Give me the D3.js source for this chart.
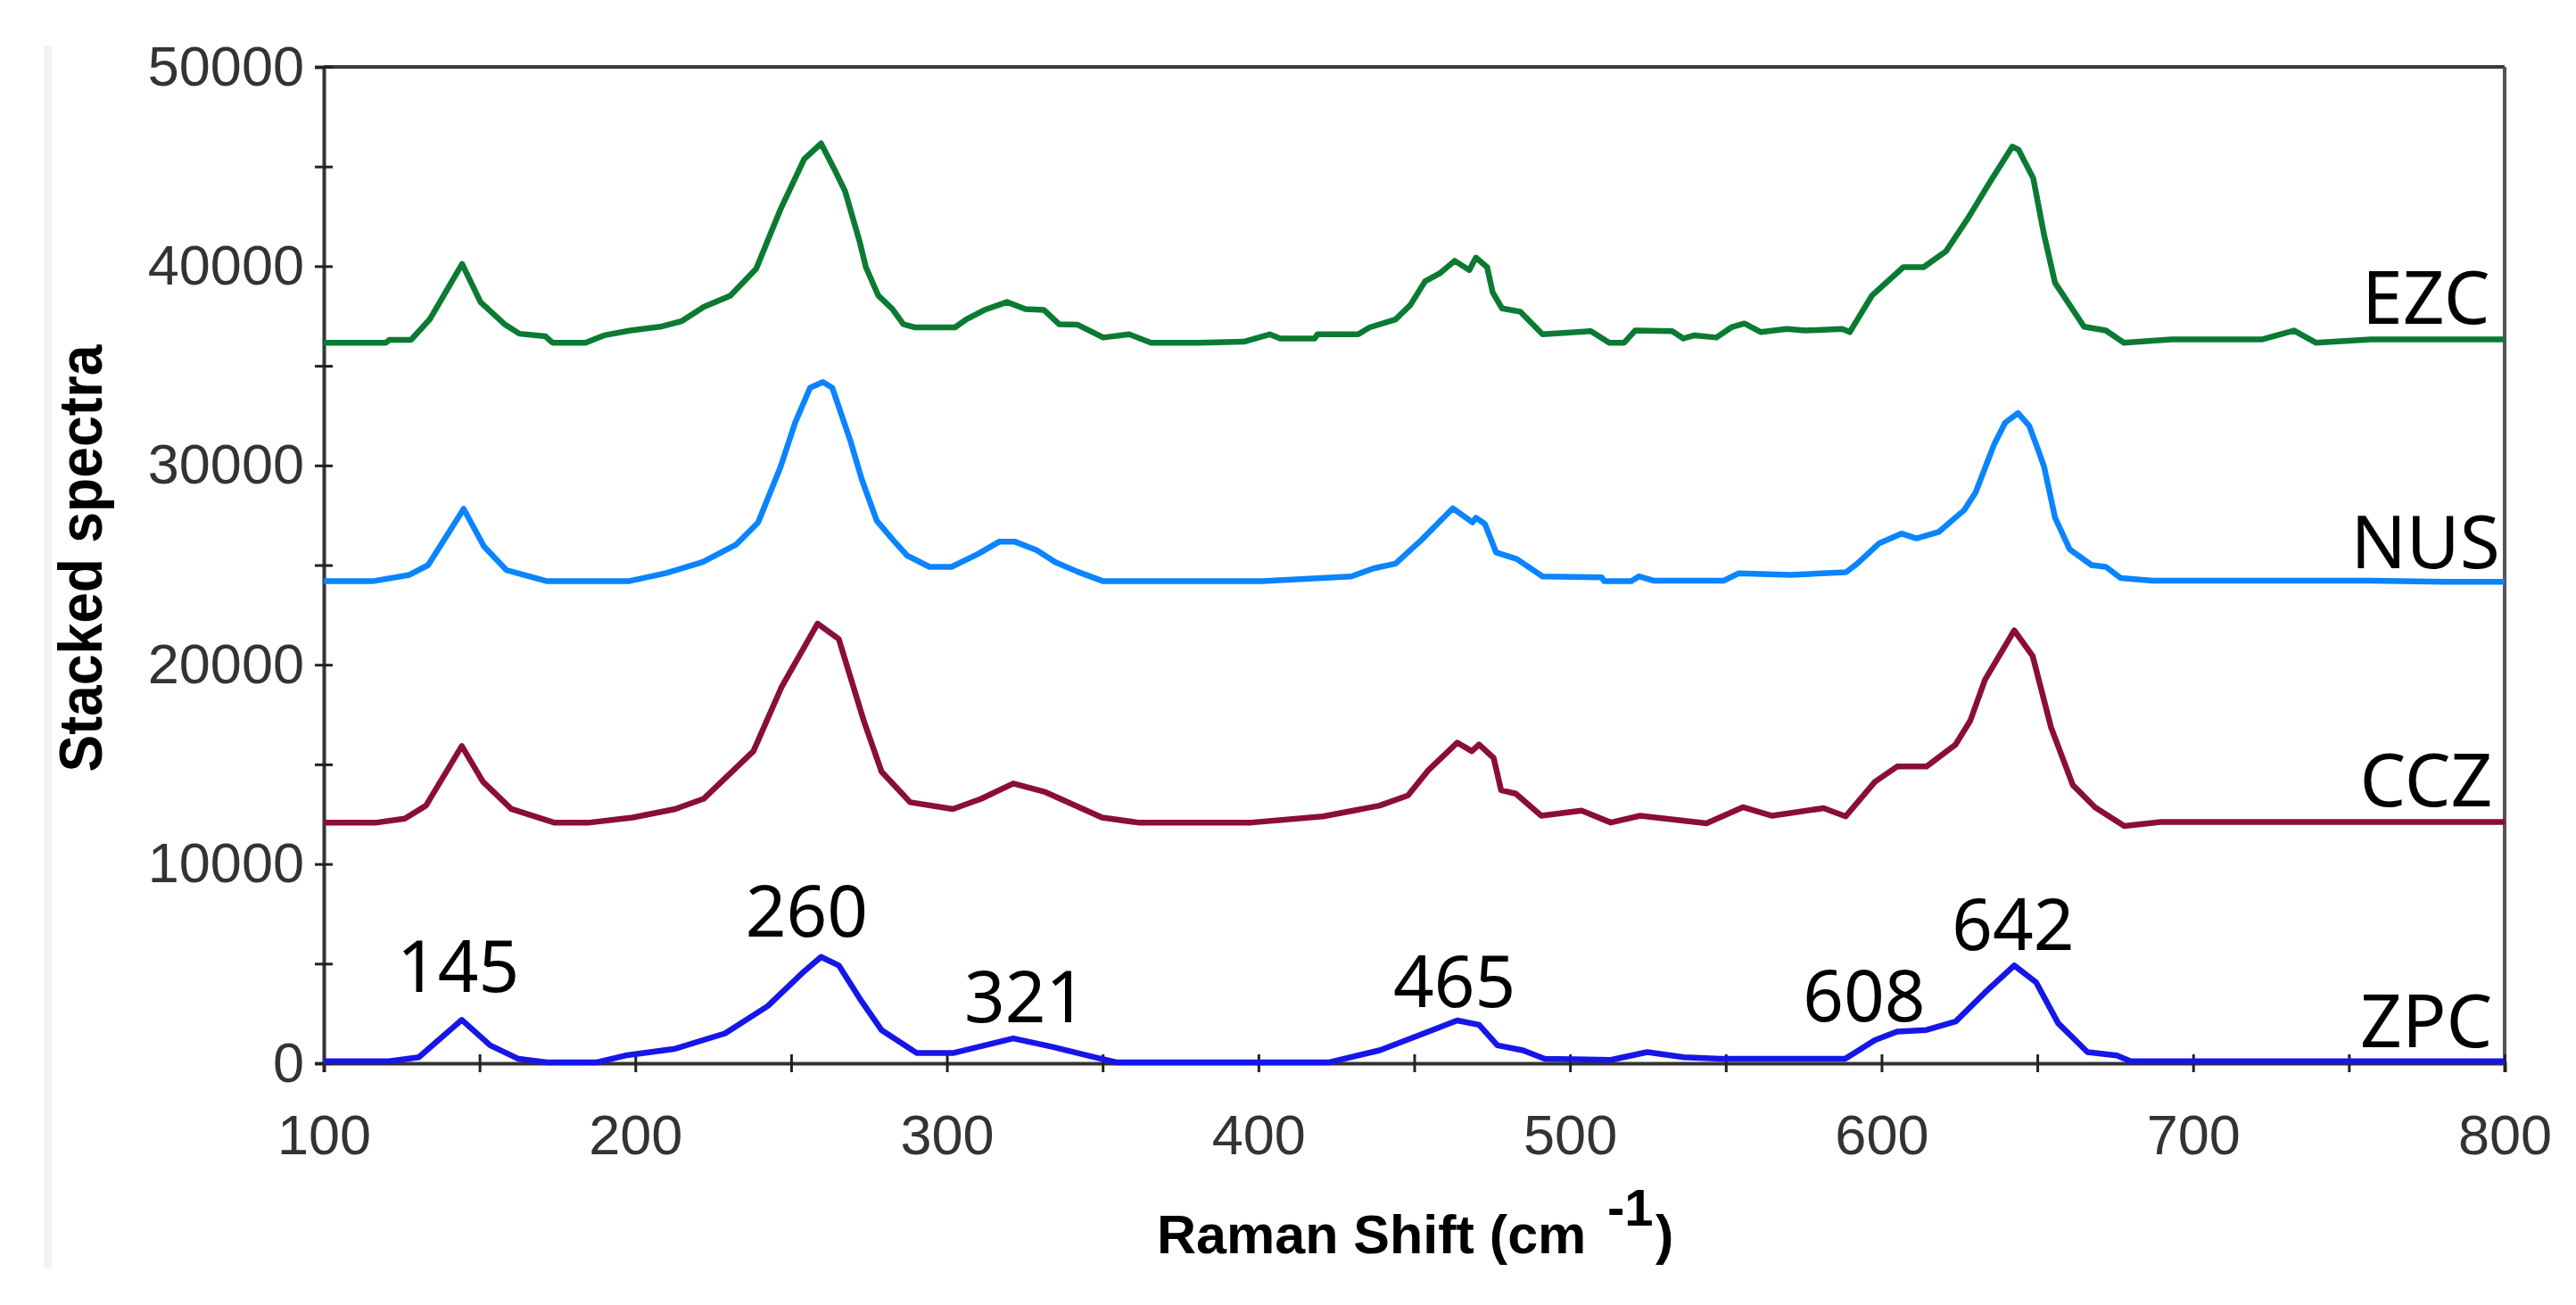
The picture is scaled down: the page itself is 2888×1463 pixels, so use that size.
<!DOCTYPE html>
<html>
<head>
<meta charset="utf-8">
<script src="https://cdn.jsdelivr.net/npm/d3@7"></script>
<style>
  html, body { margin: 0; padding: 0; background: #fff; }
  svg { display: block; }
</style>
</head>
<body>
<div id="chart"></div>
<script>
// Raman spectra, stacked: [shift (cm-1), intensity]
const seriesNames = ["EZC", "NUS", "CCZ", "ZPC"];
const seriesColors = ["#0b7a32", "#0a84ff", "#8a0d3c", "#1616e8"];

const ezcData = [
  [100,36160],[120,36160],[121,36300],[128,36300],[134,37330],[144.4,40110],[150.3,38200],[158,37090],
  [162.8,36610],[171.1,36480],[173.4,36160],[184,36160],[190,36530],[198.4,36770],[208,36960],[215,37250],
  [222,37960],[230.5,38520],[238.8,39870],[246.5,42820],[254.2,45370],[259.6,46160],[263.8,44890],[267.3,43770],
  [272,41230],[274,39950],[278,38520],[282.5,37850],[286,37090],[289.6,36930],[302.6,36930],[306.2,37330],
  [312,37800],[319.3,38200],[325.2,37850],[331.2,37800],[336,37090],[342,37060],[350.2,36420],[358.5,36580],
  [365.5,36160],[381,36160],[395.3,36210],[403.6,36580],[407,36370],[418,36370],[419,36580],[432,36580],
  [435.7,36930],[444,37330],[448.7,38040],[453.5,39240],[458.2,39640],[463,40270],[467.7,39800],[469.8,40430],
  [473.4,39950],[475.2,38680],[478.2,37880],[484,37720],[491.2,36580],[506.7,36740],[512.6,36160],[517.4,36160],
  [520.9,36770],[532.8,36740],[536.4,36370],[540,36530],[547,36420],[551.8,36930],[556,37120],[561.3,36690],
  [569.6,36850],[575.5,36770],[587.4,36850],[589.8,36690],[596.9,38520],[607,39950],[613.5,39950],[620.7,40750],
  [627.8,42420],[634.9,44250],[642,46000],[644,45840],[648.7,44410],[652.2,41550],[655.7,39160],[665,36960],
  [672,36770],[677.8,36160],[693,36320],[722,36320],[732.4,36770],[739.4,36160],[757,36320],[800,36320]
];

const nusData = [
  [100,24190],[115.6,24190],[127.5,24510],[133.5,25000],[144.9,27820],[151.4,25940],[158.6,24750],[171.7,24190],
  [197.8,24190],[209.7,24590],[221.6,25150],[232.3,26020],[239.4,27140],[246.6,29920],[251.3,32150],[256.1,33900],
  [260.2,34190],[263.2,33900],[269.1,31200],[272.7,29290],[277.5,27220],[282.8,26250],[287.3,25470],[294.4,24910],
  [301.5,24910],[309.8,25540],[316.9,26180],[321.7,26180],[328.8,25750],[334.8,25150],[341.9,24670],[350.2,24190],
  [401.3,24190],[429.8,24430],[436.9,24830],[444,25070],[452.3,26260],[462.4,27850],[468.7,27140],[469.8,27380],
  [472.7,27060],[476.3,25630],[482.9,25310],[491.2,24430],[510.2,24380],[511,24190],[519.7,24190],[522.1,24430],
  [526.8,24220],[549.4,24220],[554.2,24590],[570.8,24510],[588.6,24640],[592.2,25070],[599.3,26100],[606.4,26580],
  [611.2,26340],[618.3,26660],[626.6,27770],[630.2,28650],[636.1,31040],[639.7,32150],[643.8,32630],[647.4,31990],
  [650.4,30720],[652.2,29920],[655.7,27380],[660.4,25790],[667.4,25000],[672,24910],[676.8,24350],[687,24220],
  [757,24220],[781,24160],[800,24160]
];

const cczData = [
  [100,12080],[117,12080],[126,12280],[132.8,12930],[144.3,15920],[151.1,14130],[160.2,12760],[173.9,12080],
  [185.4,12080],[199.1,12330],[212.8,12760],[221.9,13270],[237.9,15660],[247,18900],[258.5,22060],[265.3,21290],
  [273.3,17200],[279,14640],[288.2,13100],[301.9,12760],[311,13270],[321.3,14040],[331.6,13610],[349.8,12330],
  [361.3,12080],[397.8,12080],[420.7,12390],[438.9,12930],[448,13440],[454.5,14700],[463.8,16090],[468.5,15660],
  [470.8,16000],[475.5,15320],[477.9,13700],[482.6,13530],[490.8,12420],[503.7,12680],[513.1,12080],[522.5,12420],
  [543.8,12040],[555.5,12850],[564.9,12420],[581.4,12800],[588.5,12390],[597.9,14130],[605,14890],[614.4,14890],
  [623.8,16000],[628.5,17200],[633.2,19240],[642.6,21720],[648.5,20440],[654.4,16860],[661.4,13960],[668.5,12850],
  [677.9,11910],[689.7,12110],[800,12110]
];

const zpcData = [
  [100,100],[121,100],[130.5,300],[144.3,2180],[153.4,900],[162.5,220],[171.6,50],[187.7,50],
  [196.8,390],[212.8,730],[228.8,1500],[242.5,2870],[253.9,4570],[259.6,5340],[265.3,4910],[272.2,3210],
  [279,1670],[290.4,510],[301.9,510],[321.3,1250],[333.9,820],[347.6,300],[354.4,50],[422.8,50],
  [438.9,650],[454.4,1580],[463.8,2150],[470.8,1930],[476.7,900],[484.9,650],[491.9,220],[513.1,170],
  [524.8,560],[536.6,300],[548.3,220],[588.3,220],[597.9,1160],[605,1590],[614.4,1670],[623.8,2100],
  [633.2,3550],[642.6,4910],[649.6,4060],[656.7,2010],[666.1,560],[675.5,390],[680,100],[800,100]
];

const allSeries = [ezcData, nusData, cczData, zpcData];

// series name positions (right aligned) in data units
const nameX = [795.3, 798.5, 796.1, 796.1];
const nameY = [37100, 24850, 12910, 820];

// peak annotations
const peakLabels = ["145", "260", "321", "465", "608", "642"];
const peakX = [143.1, 255, 325.2, 462.9, 594.4, 642.2];
const peakY = [3590, 6370, 2060, 2810, 2120, 5680];

const xTicks = d3.range(100, 801, 50);
const yTicks = d3.range(0, 50001, 5000);

// layout
const width = 2888;
const height = 1463;
const margin = { top: 75, right: 80, bottom: 271, left: 363 };

const svg = d3.select("#chart")
  .append("svg")
  .attr("width", width)
  .attr("height", height);

const x = d3.scaleLinear()
  .domain([100, 800])
  .range([margin.left, width - margin.right]);

const y = d3.scaleLinear()
  .domain([0, 50000])
  .range([height - margin.bottom, margin.top]);

// faint border strip on the far left
svg.append("rect")
  .attr("x", 49).attr("y", 51)
  .attr("width", 9).attr("height", 1370)
  .attr("fill", "#f2f2f2");

// frame (top and right)
svg.append("line")
  .attr("x1", x(100)).attr("x2", x(800))
  .attr("y1", y(50000)).attr("y2", y(50000))
  .attr("stroke", "#3a3a3a").attr("stroke-width", 4);
svg.append("line")
  .attr("x1", x(800)).attr("x2", x(800))
  .attr("y1", y(50000)).attr("y2", y(0))
  .attr("stroke", "#555").attr("stroke-width", 4);

// axes
const xAxis = svg.append("g")
  .attr("transform", `translate(0,${y(0)})`)
  .call(d3.axisBottom(x)
    .tickValues(xTicks)
    .tickSize(10)
    .tickPadding(47)
    .tickFormat(d => d % 100 === 0 ? d : ""));

const yAxis = svg.append("g")
  .attr("transform", `translate(${x(100)},0)`)
  .call(d3.axisLeft(y)
    .tickValues(yTicks)
    .tickSize(10)
    .tickPadding(12)
    .tickFormat(d => d % 10000 === 0 ? d : ""));

// ticks cross the axis line
xAxis.selectAll(".tick line").attr("y1", -10).attr("y2", 10);
yAxis.selectAll(".tick line").attr("x1", -10).attr("x2", 10);

[xAxis, yAxis].forEach(g => {
  g.select(".domain").attr("stroke", "#333").attr("stroke-width", 4);
  g.selectAll(".tick line").attr("stroke", "#222").attr("stroke-width", 3);
  g.selectAll(".tick text")
    .attr("font-family", "'Liberation Sans', Arial, sans-serif")
    .attr("font-size", 63)
    .attr("fill", "#333");
});

// spectra
const line = d3.line()
  .x(d => x(d[0]))
  .y(d => y(d[1]));

svg.selectAll(".spectrum")
  .data(allSeries)
  .enter()
  .append("path")
  .attr("class", "spectrum")
  .attr("d", line)
  .attr("fill", "none")
  .attr("stroke", (d, i) => seriesColors[i])
  .attr("stroke-width", 6.5)
  .attr("stroke-linejoin", "round");

// series names
svg.selectAll(".name")
  .data(seriesNames)
  .enter()
  .append("text")
  .attr("class", "name")
  .attr("x", (d, i) => x(nameX[i]))
  .attr("y", (d, i) => y(nameY[i]))
  .attr("text-anchor", "end")
  .attr("font-family", "'Noto Sans', 'Open Sans', sans-serif")
  .attr("font-size", 82)
  .attr("fill", "#000")
  .text(d => d);

// peak labels
svg.selectAll(".peak")
  .data(peakLabels)
  .enter()
  .append("text")
  .attr("class", "peak")
  .attr("x", (d, i) => x(peakX[i]))
  .attr("y", (d, i) => y(peakY[i]))
  .attr("text-anchor", "middle")
  .attr("font-family", "'Noto Sans', 'Open Sans', sans-serif")
  .attr("font-size", 80)
  .attr("fill", "#000")
  .text(d => d);

// axis titles
svg.append("text")
  .attr("transform", `translate(114,626) rotate(-90)`)
  .attr("text-anchor", "middle")
  .attr("font-family", "'Liberation Sans', Arial, sans-serif")
  .attr("font-weight", "bold")
  .attr("font-size", 68)
  .attr("textLength", 479)
  .attr("lengthAdjust", "spacingAndGlyphs")
  .attr("fill", "#000")
  .text("Stacked spectra");

// x title: main part plus raised exponent as separate texts
svg.append("text")
  .attr("x", 1297)
  .attr("y", 1405)
  .attr("font-family", "'Liberation Sans', Arial, sans-serif")
  .attr("font-weight", "bold")
  .attr("font-size", 61)
  .attr("fill", "#000")
  .text("Raman Shift (cm");

svg.append("text")
  .attr("x", 1802)
  .attr("y", 1374)
  .attr("font-family", "'Liberation Sans', Arial, sans-serif")
  .attr("font-weight", "bold")
  .attr("font-size", 58)
  .attr("fill", "#000")
  .text("-1");

svg.append("text")
  .attr("x", 1856)
  .attr("y", 1405)
  .attr("font-family", "'Liberation Sans', Arial, sans-serif")
  .attr("font-weight", "bold")
  .attr("font-size", 61)
  .attr("fill", "#000")
  .text(")");
</script>
</body>
</html>
